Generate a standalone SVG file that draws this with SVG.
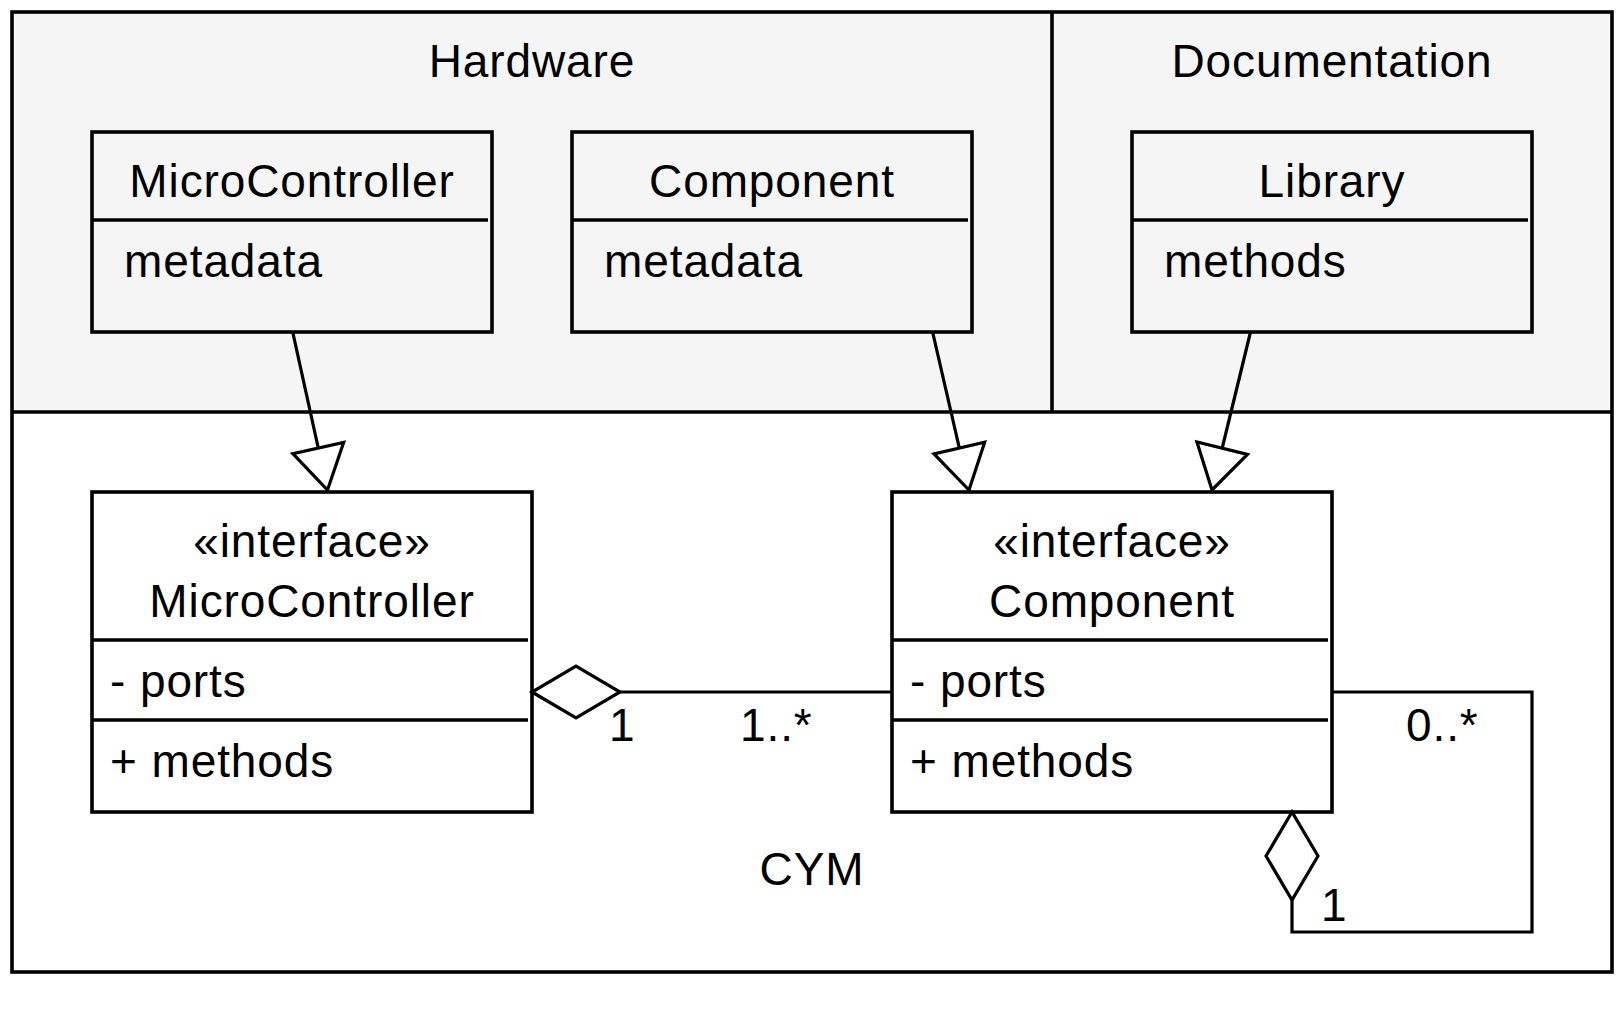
<svg xmlns="http://www.w3.org/2000/svg" width="1620" height="1020" viewBox="0 0 1620 1020">
  <style>
    text { font-family: "Liberation Sans", Arial, sans-serif; font-size: 46px; fill: #000; letter-spacing: 0.9px; }
    .c { text-anchor: middle; }
    .ln { stroke: #000; stroke-width: 3.6; fill: none; }
    .cn { stroke: #000; stroke-width: 3.2; fill: none; }
    .box { stroke: #000; stroke-width: 3.6; }
    .gray { fill: #f5f5f5; }
    .white { fill: #fff; }
  </style>
  <defs>
    <marker id="tri" markerUnits="userSpaceOnUse" markerWidth="100" markerHeight="100" refX="0" refY="0" orient="auto" overflow="visible">
      <path d="M0,0 L-43,-26 L-43,26 Z" fill="#fff" stroke="#000" stroke-width="3.2"/>
    </marker>
    <marker id="dia" markerUnits="userSpaceOnUse" markerWidth="100" markerHeight="100" refX="0" refY="0" orient="auto" overflow="visible">
      <path d="M0,0 L-44,-26 L-88,0 L-44,26 Z" fill="#fff" stroke="#000" stroke-width="3.2"/>
    </marker>
  </defs>
  <rect width="1620" height="1020" fill="#fff"/>

  <g id="cym">
    <rect x="12" y="12" width="1600" height="400" class="gray"/>
    <rect x="12" y="412" width="1600" height="560" class="white"/>
    <rect x="12" y="12" width="1600" height="960" class="ln"/>
    <line x1="12" y1="412" x2="1612" y2="412" class="ln"/>
    <text x="812" y="885" class="c">CYM</text>
  </g>

  <g id="hardware">
    <line x1="1052" y1="12" x2="1052" y2="412" class="ln"/>
    <text x="532" y="77" class="c">Hardware</text>
  </g>

  <g id="documentation">
    <text x="1332" y="77" class="c">Documentation</text>
  </g>

  <g id="hw-microcontroller">
    <rect x="92" y="132" width="400" height="200" class="box gray"/>
    <line x1="92" y1="220" x2="488" y2="220" class="ln"/>
    <text x="292" y="197" class="c">MicroController</text>
    <text x="124" y="277">metadata</text>
  </g>

  <g id="hw-component">
    <rect x="572" y="132" width="400" height="200" class="box gray"/>
    <line x1="572" y1="220" x2="968" y2="220" class="ln"/>
    <text x="772" y="197" class="c">Component</text>
    <text x="604" y="277">metadata</text>
  </g>

  <g id="doc-library">
    <rect x="1132" y="132" width="400" height="200" class="box gray"/>
    <line x1="1132" y1="220" x2="1528" y2="220" class="ln"/>
    <text x="1332" y="197" class="c">Library</text>
    <text x="1164" y="277">methods</text>
  </g>

  <g id="if-microcontroller">
    <rect x="92" y="492" width="440" height="320" class="box white"/>
    <line x1="92" y1="640" x2="528" y2="640" class="ln"/>
    <line x1="92" y1="720" x2="528" y2="720" class="ln"/>
    <text x="312" y="557" class="c">«interface»</text>
    <text x="312" y="617" class="c">MicroController</text>
    <text x="110" y="697">- ports</text>
    <text x="110" y="777">+ methods</text>
  </g>

  <g id="if-component">
    <rect x="892" y="492" width="440" height="320" class="box white"/>
    <line x1="892" y1="640" x2="1328" y2="640" class="ln"/>
    <line x1="892" y1="720" x2="1328" y2="720" class="ln"/>
    <text x="1112" y="557" class="c">«interface»</text>
    <text x="1112" y="617" class="c">Component</text>
    <text x="910" y="697">- ports</text>
    <text x="910" y="777">+ methods</text>
  </g>

  <g id="connectors">
    <path d="M292.7,332 L327.5,490" class="cn" marker-end="url(#tri)"/>
    <path d="M932.6,332 L969,490" class="cn" marker-end="url(#tri)"/>
    <path d="M1250.5,332 L1212,490" class="cn" marker-end="url(#tri)"/>
    <path d="M892,692 L532,692" class="cn" marker-end="url(#dia)"/>
    <path d="M1332,692 L1532,692 L1532,932 L1292,932 L1292,812" class="cn" marker-end="url(#dia)"/>
    <text x="609" y="741">1</text>
    <text x="740" y="741">1..*</text>
    <text x="1406" y="741">0..*</text>
    <text x="1321" y="921">1</text>
  </g>
</svg>
